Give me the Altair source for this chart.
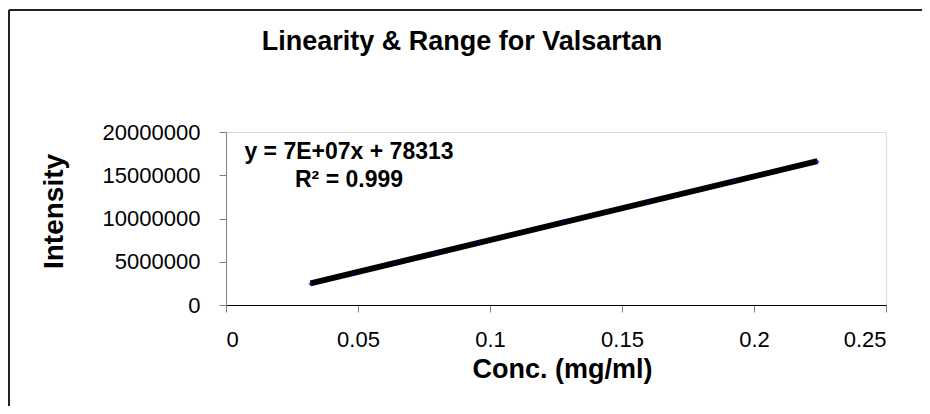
import altair as alt
import pandas as pd

conc = [0.032, 0.048, 0.064, 0.080, 0.096, 0.128, 0.160, 0.192, 0.224]
intensity = [2430000, 3660000, 4890000, 6050000, 7200000, 9710000, 11830000, 14330000, 16570000]
eq_lines = ["y = 7E+07x + 78313", "R\u00b2 = 0.999"]
title_text = "Linearity & Range for Valsartan"
x_ticks = [0, 0.05, 0.1, 0.15, 0.2, 0.25]
y_ticks = [0, 5000000, 10000000, 15000000, 20000000]

FONT = "Liberation Sans"
df = pd.DataFrame({"conc": conc, "intensity": intensity})

x_enc = alt.X(
    "conc:Q",
    scale=alt.Scale(domain=[0, 0.25], nice=False, zero=False),
    axis=alt.Axis(
        values=x_ticks, format="~g", title="Conc. (mg/ml)", grid=False,
        domainColor="black", tickColor="#808080", tickSize=7, labelPadding=17,
        labelFontSize=22, labelFont=FONT, labelColor="black",
        titleFontSize=27, titleFont=FONT, titleFontWeight="bold", titleColor="black",
        titleX=336, titleY=64, titleBaseline="middle", titleAlign="center",
    ),
)
y_enc = alt.Y(
    "intensity:Q",
    scale=alt.Scale(domain=[0, 20000000], nice=False),
    axis=alt.Axis(
        values=y_ticks, format="d", title="Intensity", grid=False,
        domainColor="#808080", tickColor="#808080", tickSize=7, labelPadding=19,
        labelFontSize=22, labelFont=FONT, labelColor="black",
        titleFontSize=28, titleFont=FONT, titleFontWeight="bold", titleColor="black",
        titleX=-172, titleY=79, titleBaseline="middle", titleAlign="center", titleAngle=270,
    ),
)

base = alt.Chart(df)

trend = base.transform_regression("conc", "intensity").mark_line(
    color="black", strokeWidth=6
).encode(x=x_enc, y=y_enc)

points = base.mark_point(shape="diamond", filled=True, color="#000080", size=18).encode(
    x="conc:Q", y="intensity:Q"
)

one = pd.DataFrame({"a": [0]})


def label(txt, x, y, size, align="center"):
    return alt.Chart(one).mark_text(
        font=FONT, fontSize=size, fontWeight="bold", color="black", align=align,
        baseline="middle", text=txt,
    ).encode(x=alt.value(x), y=alt.value(y))


eq1 = label(eq_lines[0], 123, 20, 23)
eq2 = label(eq_lines[1], 123, 48, 23)
ttl = label(title_text, 236, -90, 27)

border_top = alt.Chart(one).mark_rule(color="#222222", strokeWidth=2).encode(
    x=alt.value(-217), x2=alt.value(720), y=alt.value(-122)
)
border_left = alt.Chart(one).mark_rule(color="#222222", strokeWidth=2).encode(
    x=alt.value(-217), y=alt.value(-122), y2=alt.value(400)
)

chart = alt.layer(border_top, border_left, trend, points, eq1, eq2, ttl).properties(
    width=660,
    height=173,
    autosize=alt.AutoSizeParams(type="none"),
    padding={"left": 218, "top": 124, "right": 36, "bottom": 101},
).configure_view(stroke=None).configure(background="white")

chart.save("out.html", embed_options={"renderer": "svg", "actions": False})
